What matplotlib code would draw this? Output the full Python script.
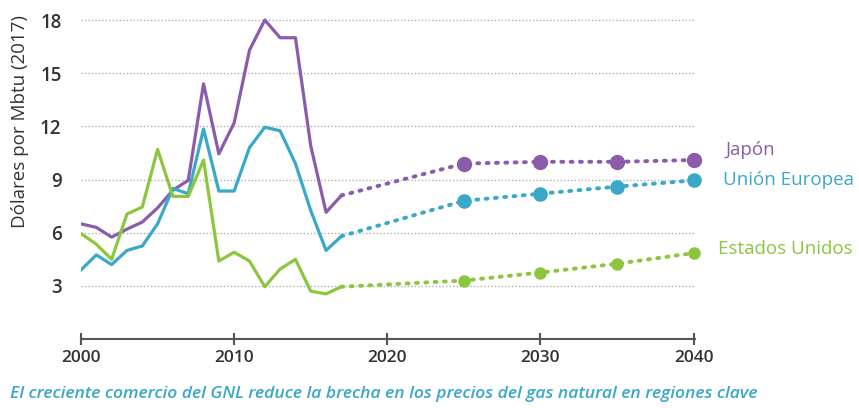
import matplotlib.pyplot as plt

plt.rcParams['font.family'] = ['Open Sans', 'DejaVu Sans']

years = list(range(2000, 2018))
japon = [6.5, 6.3, 5.75, 6.2, 6.6, 7.4, 8.4, 8.95, 14.4, 10.45, 12.2, 16.3, 18.0, 17.0, 17.0, 10.9, 7.15, 8.1]
ue = [3.9, 4.75, 4.2, 5.0, 5.25, 6.5, 8.5, 8.2, 11.85, 8.35, 8.35, 10.8, 11.95, 11.75, 9.9, 7.25, 5.0, 5.8]
eeuu = [5.95, 5.35, 4.5, 7.05, 7.45, 10.7, 8.05, 8.05, 10.1, 4.4, 4.9, 4.4, 2.95, 3.95, 4.5, 2.7, 2.55, 2.95]

proj_years = [2025, 2030, 2035, 2040]
japon_proj = [9.9, 10.0, 10.0, 10.1]
ue_proj = [7.8, 8.2, 8.6, 8.95]
eeuu_proj = [3.3, 3.75, 4.25, 4.85]

purple = '#8a5cac'
teal = '#3aa8c8'
green = '#8cc63f'

fig = plt.figure(figsize=(8.59, 4.08), dpi=100)
ax = fig.add_axes([0.0943, 0.169, 0.715, 0.808])

series = [
    (japon, japon_proj, purple, 10, 'Japón'),
    (ue, ue_proj, teal, 9.5, 'Unión Europea'),
    (eeuu, eeuu_proj, green, 8, 'Estados Unidos'),
]
for hist, proj, col, ms, name in series:
    ax.plot(years, hist, color=col, linewidth=2.3, zorder=3)
    ax.plot([years[-1]] + proj_years, [hist[-1]] + proj, color=col, linewidth=2.8,
            linestyle=(0, (0.5, 1.9)), dash_capstyle='round', zorder=3, clip_on=False)
    ax.plot(proj_years, proj, 'o', color=col, markersize=ms, zorder=4, clip_on=False)

ax.text(2042.1, 10.65, 'Japón', color=purple, fontsize=13.5, va='center')
ax.text(2041.9, 8.95, 'Unión Europea', color=teal, fontsize=13.5, va='center')
ax.text(2041.6, 5.1, 'Estados Unidos', color=green, fontsize=13.5, va='center')

ax.set_xlim(2000, 2040.1)
ax.set_ylim(0, 18.6)
ax.set_yticks([3, 6, 9, 12, 15, 18])
ax.set_xticks([2000, 2010, 2020, 2030, 2040])
ax.grid(axis='y', color='#b0b0b0', linestyle=(0, (1, 1.5)), linewidth=1)
ax.set_axisbelow(True)
for s in ['top', 'right', 'left']:
    ax.spines[s].set_visible(False)
ax.spines['bottom'].set_color('#555555')
ax.spines['bottom'].set_linewidth(1.5)
ax.tick_params(axis='y', length=0, labelsize=13.5, labelcolor='#333333', pad=14)
ax.tick_params(axis='x', direction='inout', length=8, width=1.5, color='#555555',
               labelsize=12.5, labelcolor='#333333', pad=4)
for lbl in ax.get_xticklabels() + ax.get_yticklabels():
    lbl.set_fontweight('semibold')
ax.set_ylabel('Dólares por Mbtu (2017)', fontsize=13.5, color='#333333')
ax.yaxis.set_label_coords(-0.085, 0.66)

fig.text(0.012, 0.025, 'El creciente comercio del GNL reduce la brecha en los precios del gas natural en regiones clave',
         color='#3aa8c8', fontsize=12.6, style='italic', fontweight='semibold')

fig.savefig('out.png', dpi=100)
